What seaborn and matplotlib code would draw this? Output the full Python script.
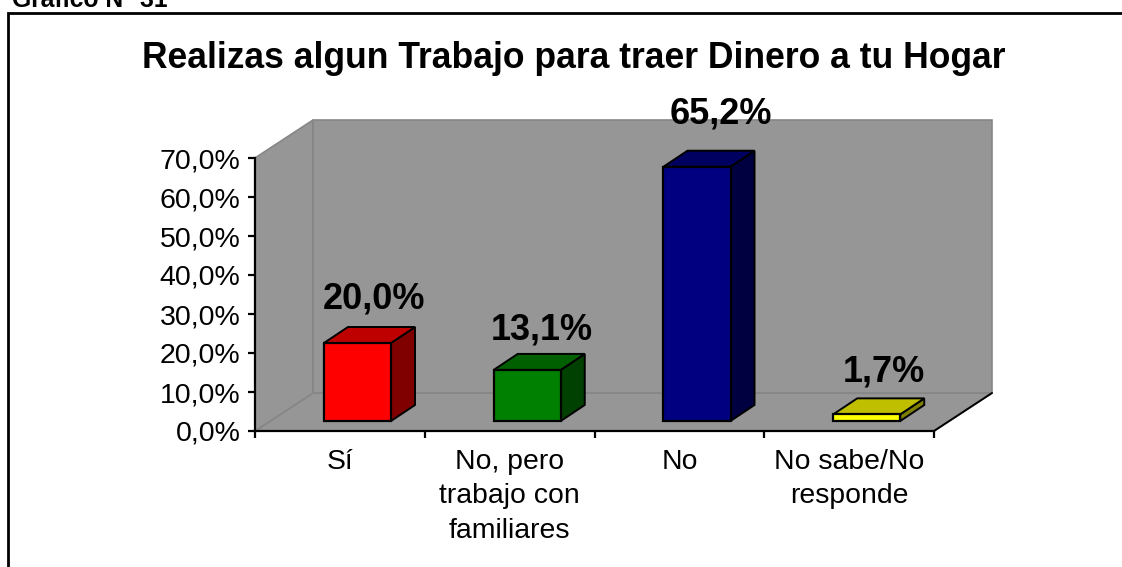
import matplotlib
matplotlib.use("Agg")
import matplotlib.pyplot as plt
from matplotlib.colors import to_rgb
from matplotlib.patches import Polygon, Rectangle
import pandas as pd
import seaborn as sns

categories = ["Sí", "No, pero\ntrabajo con\nfamiliares", "No", "No sabe/No\nresponde"]
values = [20.0, 13.1, 65.2, 1.7]
bar_labels = ["20,0%", "13,1%", "65,2%", "1,7%"]
bar_colors = ["#ff0000", "#008000", "#000080", "#ffff00"]
y_ticks = [0, 10, 20, 30, 40, 50, 60, 70]
y_labels = ["0,0%", "10,0%", "20,0%", "30,0%", "40,0%", "50,0%", "60,0%", "70,0%"]

W, H = 1122, 567
AX_L, AX_R, AX_T, AX_B = 255, 934, 158, 431

sns.set_theme(style="white")
plt.rcParams["font.family"] = ["Liberation Sans", "DejaVu Sans"]

fig = plt.figure(figsize=(W / 100, H / 100), dpi=100)
ax = fig.add_axes([AX_L / W, 1 - AX_B / H, (AX_R - AX_L) / W, (AX_B - AX_T) / H])

df = pd.DataFrame({"cat": categories, "val": values})
sns.barplot(data=df, x="cat", y="val", hue="cat", palette=bar_colors, legend=False,
            width=0.395, saturation=1, edgecolor="black", linewidth=1.6, ax=ax, zorder=5)
ax.set_xlim(-0.5, 3.5)
ax.set_ylim(0, 70)

# fake 3d depth, in data units
px_x = 4 / (AX_R - AX_L)
px_y = 70 / (AX_B - AX_T)
wall_dx, wall_dy = 58 * px_x, 38 * px_y
lift_dx, lift_dy = 17.6 * px_x, 10 * px_y
side_dx, side_dy = 24 * px_x, 16 * px_y

# the labels do not sit evenly over the bars in the original (pixels)
label_nudge = [(5, -13), (3, -17), (12, -4), (5, -15)]

x0, x1, top = -0.5, 3.5, 70
wall = "#969696"
edge = "#868686"
walls = [
    [(x0, 0), (x0 + wall_dx, wall_dy), (x1 + wall_dx, wall_dy), (x1, 0)],
    [(x0, 0), (x0, top), (x0 + wall_dx, top + wall_dy), (x0 + wall_dx, wall_dy)],
    [(x0 + wall_dx, wall_dy), (x0 + wall_dx, top + wall_dy), (x1 + wall_dx, top + wall_dy), (x1 + wall_dx, wall_dy)],
]
for w in walls:
    ax.add_patch(Polygon(w, closed=True, facecolor=wall, edgecolor=edge, linewidth=1.2, clip_on=False, zorder=1))
ax.plot([x1, x1 + wall_dx], [0, wall_dy], color="black", lw=1.4, clip_on=False, zorder=2)

def shade(c, f):
    return tuple(v * f for v in to_rgb(c))

for p, c, lab, nudge in zip(ax.patches, bar_colors, bar_labels, label_nudge):
    p.set_x(p.get_x() + lift_dx)
    p.set_y(lift_dy)
    p.set_clip_on(False)
    l, r = p.get_x(), p.get_x() + p.get_width()
    b, t = lift_dy, lift_dy + p.get_height()
    ax.add_patch(Polygon([(r, b), (r + side_dx, b + side_dy), (r + side_dx, t + side_dy), (r, t)],
                         facecolor=shade(c, 0.5), edgecolor="black", linewidth=1.4, clip_on=False, zorder=4))
    ax.add_patch(Polygon([(l, t), (l + side_dx, t + side_dy), (r + side_dx, t + side_dy), (r, t)],
                         facecolor=shade(c, 0.75), edgecolor="black", linewidth=1.4, clip_on=False, zorder=4))
    ax.annotate(lab, ((l + r) / 2 + side_dx / 2, t + side_dy),
                xytext=(nudge[0] * 0.72, 17 + nudge[1] * 0.72), textcoords="offset points",
                ha="center", va="bottom", fontsize=26, fontweight="bold", color="black",
                annotation_clip=False, zorder=6)

ax.set_xlabel("")
ax.set_ylabel("")
ax.set_yticks(y_ticks)
ax.set_yticklabels(y_labels, fontsize=20.5, color="black")
ax.set_xticks([-0.5, 0.5, 1.5, 2.5, 3.5])
ax.set_xticklabels([])
ax.tick_params(axis="y", left=True, length=5, width=1.6, color="black", pad=5.5)
ax.tick_params(axis="x", bottom=True, length=5, width=1.6, color="black")
for i, c in enumerate(categories):
    ax.annotate(c, (i, 0), xytext=(0, -13), textcoords="offset points", ha="center", va="top",
                fontsize=20.4, color="black", linespacing=1.42, annotation_clip=False)
sns.despine(ax=ax, top=True, right=True)
ax.spines["left"].set_linewidth(1.6)
ax.spines["bottom"].set_linewidth(1.6)
ax.spines["left"].set_color("black")
ax.spines["bottom"].set_color("black")
ax.spines["left"].set_zorder(3)
ax.spines["bottom"].set_zorder(3)
ax.patch.set_alpha(0)

fig.add_artist(Rectangle((8 / W, -0.02), 1.02, 1 - 13 / H + 0.02, transform=fig.transFigure,
                         fill=False, edgecolor="black", linewidth=2))
fig.text(574 / W, 1 - 59 / H, "Realizas algun Trabajo para traer Dinero a tu Hogar", ha="center", va="center",
         fontsize=25.6, fontweight="bold", color="black")
fig.text(12 / W, 1 - 7 / H, "Gráfico N° 31", ha="left", va="baseline", fontsize=17.8, fontweight="bold", color="black")

fig.savefig("out.png", dpi=100)
